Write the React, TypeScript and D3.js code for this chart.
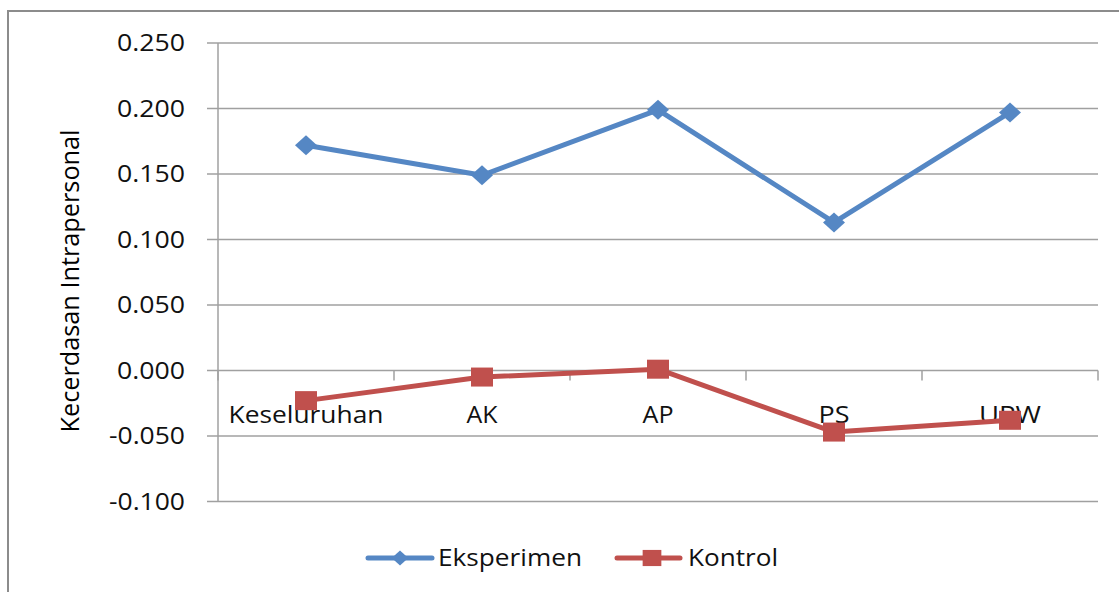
import React from "react";
import * as d3 from "d3";

const categories = ["Keseluruhan", "AK", "AP", "PS", "UPW"];
const eksperimen = [0.172, 0.149, 0.199, 0.113, 0.197];
const kontrol = [-0.023, -0.005, 0.001, -0.047, -0.038];
const yTicks = [-0.1, -0.05, 0, 0.05, 0.1, 0.15, 0.2, 0.25];

const width = 1119;
const height = 592;
const font = "'Open Sans', 'DejaVu Sans', sans-serif";
const blue = "#5587c4";
const red = "#c0504d";
const grid = "#a0a0a0";

const App = () => {
  const x = d3.scaleBand().domain(categories).range([218, 1098]);
  const y = d3.scaleLinear().domain([-0.1, 0.25]).range([501.5, 43]);
  const cx = (c) => x(c) + x.bandwidth() / 2;

  const line = d3
    .line()
    .x((d) => cx(d[0]))
    .y((d) => y(d[1]));

  const series = [
    { name: "Eksperimen", values: eksperimen, color: blue, shape: "diamond" },
    { name: "Kontrol", values: kontrol, color: red, shape: "square" },
  ];

  const marker = (shape, px, py, color, s = 1) =>
    shape === "diamond" ? (
      <path
        d={`M${px},${py - 10 * s}L${px + 11 * s},${py}L${px},${py + 10 * s}L${px - 11 * s},${py}Z`}
        fill={color}
      />
    ) : (
      <rect x={px - 11 * s} y={py - 9.5 * s} width={22 * s} height={19 * s} fill={color} />
    );

  const xTickPos = categories.map((c) => x(c)).concat([x.range()[1]]);

  return (
    <svg
      width={width}
      height={height}
      style={{ position: "absolute", left: 0, top: 0, background: "#fff" }}
    >
      {/* outer chart border */}
      <rect x={8} y={11} width={1130} height={600} fill="none" stroke="#8c8c8c" strokeWidth={2} />

      {/* gridlines + y ticks */}
      {yTicks.map((t) => (
        <g key={t}>
          <line x1={207} x2={1098} y1={y(t)} y2={y(t)} stroke={grid} strokeWidth={1.5} />
          <text
            x={185}
            y={y(t)}
            dy="0.35em"
            textAnchor="end"
            fontFamily={font}
            fontSize={23}
            fill="#111"
            textLength={t < 0 ? 76 : 68}
            lengthAdjust="spacingAndGlyphs"
          >
            {d3.format(".3f")(t).replace("−", "-")}
          </text>
        </g>
      ))}

      {/* y axis line */}
      <line x1={218} x2={218} y1={y(0.25)} y2={y(-0.1)} stroke={grid} strokeWidth={1.5} />

      {/* x ticks on zero line */}
      {xTickPos.map((p, i) => (
        <line key={i} x1={p} x2={p} y1={y(0)} y2={y(0) + 10} stroke={grid} strokeWidth={1.5} />
      ))}

      {/* category labels */}
      {categories.map((c) => (
        <text
          key={c}
          x={cx(c)}
          y={423}
          textAnchor="middle"
          fontFamily={font}
          fontSize={23}
          fill="#111"
          textLength={c === "Keseluruhan" ? 155 : c === "UPW" ? 62 : 31}
          lengthAdjust="spacingAndGlyphs"
        >
          {c}
        </text>
      ))}

      {/* series */}
      {series.map((s) => {
        const pts = categories.map((c, i) => [c, s.values[i]]);
        return (
          <g key={s.name}>
            <path d={line(pts)} fill="none" stroke={s.color} strokeWidth={5} strokeLinejoin="round" />
            {pts.map((p) => (
              <g key={p[0]}>{marker(s.shape, cx(p[0]), y(p[1]), s.color)}</g>
            ))}
          </g>
        );
      })}

      {/* y axis title */}
      <text
        transform="translate(79,281) rotate(-90)"
        textAnchor="middle"
        fontFamily={font}
        fontSize={26}
        fontWeight={500}
        fill="#000"
        textLength={303}
        lengthAdjust="spacingAndGlyphs"
      >
        Kecerdasan Intrapersonal
      </text>

      {/* legend */}
      <line x1={368} x2={432} y1={558} y2={558} stroke={blue} strokeWidth={5} strokeLinecap="round" />
      {marker("diamond", 400, 558, blue, 0.75)}
      <text x={438} y={566} fontFamily={font} fontSize={23} fill="#111" textLength={144} lengthAdjust="spacingAndGlyphs">
        Eksperimen
      </text>
      <line x1={617} x2={680} y1={558} y2={558} stroke={red} strokeWidth={5} strokeLinecap="round" />
      {marker("square", 652, 558, red, 0.85)}
      <text x={688} y={566} fontFamily={font} fontSize={23} fill="#111" textLength={90} lengthAdjust="spacingAndGlyphs">
        Kontrol
      </text>
    </svg>
  );
};

export default App;
